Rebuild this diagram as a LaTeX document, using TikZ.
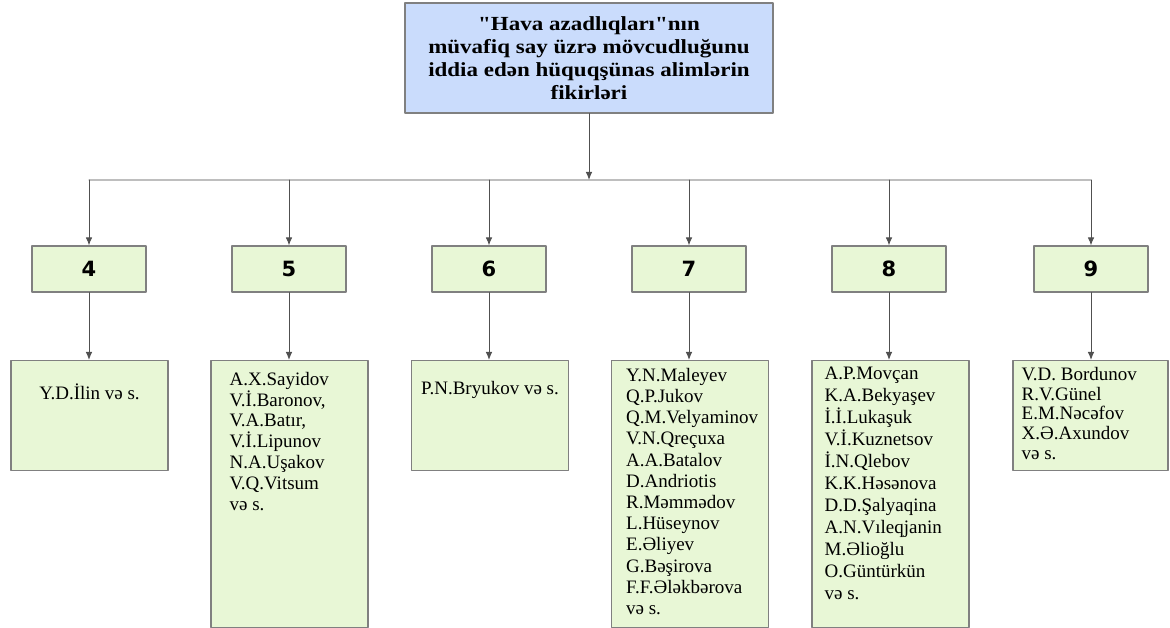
\documentclass[tikz,border=0pt]{standalone}
\usepackage{fontspec}
\setmainfont{Liberation Serif}
\newfontfamily\basliqfont[FakeStretch=1.15]{Liberation Serif}
\newfontfamily\ededfont{DejaVu Sans}
\usetikzlibrary{arrows.meta}
\definecolor{mavi}{RGB}{202,220,252}
\definecolor{yasil}{RGB}{232,247,214}
\definecolor{sarhad}{RGB}{128,128,128}
\definecolor{xett}{RGB}{80,80,80}
\definecolor{sinxett}{RGB}{190,190,190}
\begin{document}
\begin{tikzpicture}
	[
		x=1pt,
		y=1pt,
		line cap=round,
		line join=round,
		>={Latex[length=8pt,width=6.5pt]},
		basliqbox/.style={draw=sarhad, line width=1.4pt, fill=mavi, minimum width=368pt, minimum height=110pt, inner sep=0pt, align=center, font=\basliqfont\bfseries\fontsize{20}{23}\selectfont},
		ededbox/.style={draw=sarhad, line width=1.1pt, fill=yasil, minimum width=114pt, minimum height=46pt, inner sep=0pt, font=\ededfont\bfseries\fontsize{21}{24}\selectfont},
		siyahibox/.style={draw=sarhad, line width=1.1pt, fill=yasil, minimum width=157pt, inner sep=0pt, anchor=north},
		siyahi/.style={inner sep=0pt, align=left, font=\fontsize{19}{21.2}\selectfont},
		ox/.style={->, draw=xett, line width=0.9pt},
		sin/.style={draw=sinxett, line width=1.3pt}
	]
		\useasboundingbox (0,0) rectangle (1170,628);
		\node[basliqbox] (basliq) at (589,570) {"Hava azadlıqları"nın\\müvafiq say üzrə mövcudluğunu\\iddia edən hüquqşünas alimlərin\\fikirləri};
		\coordinate (bolgu) at (589,448);
		\foreach \n/\x in {4/89,5/289,6/489,7/689,8/889,9/1091}
			\node[ededbox] (n\n) at (\x,359) {\n};
		\node[siyahibox, minimum height=110pt] (s4) at (89.5,268) {};
		\node[siyahibox, minimum height=267pt] (s5) at (289.5,268) {};
		\node[siyahibox, minimum height=110pt] (s6) at (490,268) {};
		\node[siyahibox, minimum height=267pt] (s7) at (690,268) {};
		\node[siyahibox, minimum height=267pt] (s8) at (890.5,268) {};
		\node[siyahibox, minimum height=110pt, minimum width=155pt] (s9) at (1090.5,268) {};
		\node[siyahi, anchor=north] (y4) at ([yshift=-24pt]s4.north) {Y.D.İlin və s.};
		\node[siyahi, anchor=north west, font=\fontsize{19}{20.8}\selectfont] (y5) at ([shift={(19pt,-12pt)}]s5.north west) {A.X.Sayidov\\V.İ.Baronov,\\V.A.Batır,\\V.İ.Lipunov\\N.A.Uşakov\\V.Q.Vitsum\\və s.};
		\node[siyahi, anchor=north] (y6) at ([yshift=-21pt]s6.north) {P.N.Bryukov və s.};
		\node[siyahi, anchor=north west] (y7) at ([shift={(15pt,-8pt)}]s7.north west) {Y.N.Maleyev\\Q.P.Jukov\\Q.M.Velyaminov\\V.N.Qreçuxa\\A.A.Batalov\\D.Andriotis\\R.Məmmədov\\L.Hüseynov\\E.Əliyev\\G.Bəşirova\\F.F.Ələkbərova\\və s.};
		\node[siyahi, anchor=north west, font=\fontsize{19}{22}\selectfont] (y8) at ([shift={(13pt,-7pt)}]s8.north west) {A.P.Movçan\\K.A.Bekyaşev\\İ.İ.Lukaşuk\\V.İ.Kuznetsov\\İ.N.Qlebov\\K.K.Həsənova\\D.D.Şalyaqina\\A.N.Vıleqjanin\\M.Əlioğlu\\O.Güntürkün\\və s.};
		\node[siyahi, anchor=north west, font=\fontsize{19}{19.8}\selectfont] (y9) at ([shift={(9pt,-7pt)}]s9.north west) {V.D. Bordunov\\R.V.Günel\\E.M.Nəcəfov\\X.Ə.Axundov\\və s.};
		\draw[sin] (n4 |- bolgu) -- (n9 |- bolgu);
		\draw[ox] (basliq.south) -- (bolgu);
		\foreach \n in {4,5,6,7,8,9}
		{
			\draw[ox] (n\n |- bolgu) -- (n\n.north);
			\draw[ox] (n\n.south) -- (n\n.south |- s\n.north);
		}
	\end{tikzpicture}
\end{document}
